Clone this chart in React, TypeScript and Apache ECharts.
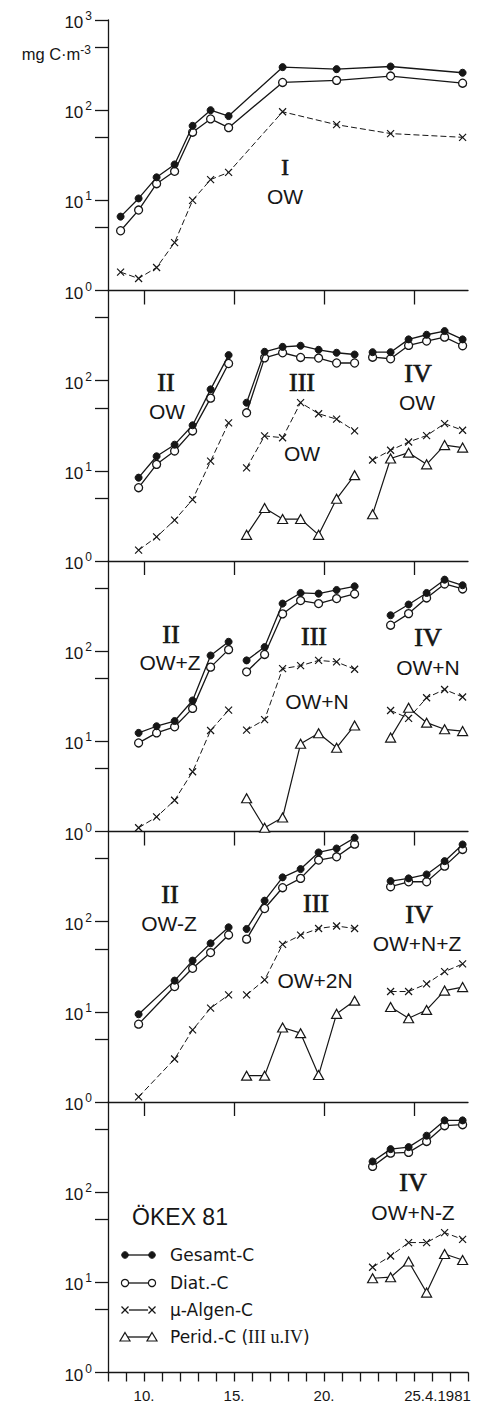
import React, { useEffect, useRef } from "react";
import * as echarts from "echarts";

// ---------- axes ----------
const X_MIN = 8;
const X_MAX = 28;
const X_LABEL_DAYS = [10, 15, 20, 25];
const Y_MIN = 1;
const Y_MAX = 1000;
const Y_MINOR_TICKS = [5, 50, 500];

// ---------- sampling days (April 1981) ----------
const DAYS_I = [8.7, 9.7, 10.7, 11.7, 12.7, 13.7, 14.7, 17.7, 20.7, 23.7, 27.7];
const DAYS_II = [9.7, 10.7, 11.7, 12.7, 13.7, 14.7];
const DAYS_II_B = [9.7, 11.7, 12.7, 13.7, 14.7];
const DAYS_III = [15.7, 16.7, 17.7, 18.7, 19.7, 20.7, 21.7];
const DAYS_IV = [22.7, 23.7, 24.7, 25.7, 26.7, 27.7];
const DAYS_IV_B = [23.7, 24.7, 25.7, 26.7, 27.7];

// ---------- panel 1: I OW ----------
const P1_GES = [6.6, 10.5, 18, 25, 67, 100, 86, 300, 285, 305, 260];
const P1_DIAT = [4.6, 7.8, 15.3, 21, 57, 80, 64, 203, 214, 239, 199];
const P1_MU = [1.6, 1.36, 1.8, 3.4, 10, 17, 20.4, 96, 69, 55, 50];

// ---------- panel 2: OW ----------
const P2_II_GES = [8.4, 14.5, 19.5, 32, 80, 192];
const P2_II_DIAT = [6.5, 11.8, 16.6, 27.7, 64, 155];
const P2_II_MU = [1.32, 1.85, 2.84, 4.8, 12.8, 34];
const P2_III_GES = [57, 209, 237, 244, 220, 204, 195];
const P2_III_DIAT = [44, 179, 204, 181, 178, 157, 157];
const P2_III_MU = [10.8, 24.4, 23.3, 57, 43, 37.4, 27.7];
const P2_III_PER = [1.95, 3.87, 2.92, 2.92, 1.95, 4.9, 8.95];
const P2_IV_GES = [207, 207, 287, 323, 355, 287];
const P2_IV_DIAT = [182, 175, 246, 275, 304, 244];
const P2_IV_MU = [13.2, 16.9, 20.9, 24.6, 33.4, 28.2];
const P2_IV_PER = [3.3, 13.7, 15.9, 11.8, 19.3, 18.1];

// ---------- panel 3: OW+Z / OW+N ----------
const P3_II_GES = [12.4, 14.7, 16.8, 28.4, 89.5, 127];
const P3_II_DIAT = [9.6, 12.4, 14.5, 23.2, 66.5, 104];
const P3_II_MU = [1.1, 1.45, 2.22, 4.6, 13.2, 22.2];
const P3_III_GES = [79, 111, 337, 442, 435, 477, 524];
const P3_III_DIAT = [59, 92, 259, 364, 337, 383, 431];
const P3_III_MU = [13.3, 17.4, 64, 69, 79, 76, 63];
const P3_III_PER = [2.34, 1.1, 1.43, 9.4, 12.3, 8.5, 15];
const P3_IV_GES = [250, 329, 442, 621, 538];
const P3_IV_DIAT = [194, 261, 389, 556, 490];
const P3_IV_MU = [22, 18, 30.4, 37.6, 31];
const P3_IV_PER = [11, 23.6, 16.1, 13.6, 13];

// ---------- panel 4: OW-Z / OW+2N / OW+N+Z ----------
const P4_II_GES = [9.4, 22.2, 37, 57.5, 86.6];
const P4_II_DIAT = [7.3, 19.1, 30.4, 45.4, 71.2];
const P4_II_MU = [1.14, 3.0, 6.3, 11, 15.4];
const P4_III_GES = [83, 171, 310, 383, 586, 648, 851];
const P4_III_DIAT = [64, 140, 238, 302, 482, 524, 724];
const P4_III_MU = [15.4, 22.6, 56, 71, 84, 89.5, 84];
const P4_III_PER = [1.96, 1.96, 6.7, 5.8, 1.99, 9.5, 13.3];
const P4_IV_GES = [282, 302, 334, 469, 718];
const P4_IV_DIAT = [244, 277, 277, 413, 632];
const P4_IV_MU = [16.8, 16.8, 20.4, 27.9, 34];
const P4_IV_PER = [11.3, 8.5, 10.5, 17.2, 18.8];

// ---------- panel 5: OW+N-Z ----------
const P5_IV_GES = [219, 300, 316, 423, 625, 625];
const P5_IV_DIAT = [193, 271, 276, 365, 546, 560];
const P5_IV_MU = [14.7, 19.6, 27.6, 27.6, 35.6, 30];
const P5_IV_PER = [11.1, 11.4, 17, 7.7, 20.6, 17.7];

const SERIES_NAMES = {
  G: "Gesamt-C",
  D: "Diat.-C",
  M: "µ-Algen-C",
  P: "Perid.-C (III u.IV)",
};

type Kind = "G" | "D" | "M" | "P";
type Line = [Kind, number[], number[]];

const PANELS: Line[][] = [
  [
    ["D", DAYS_I, P1_DIAT],
    ["G", DAYS_I, P1_GES],
    ["M", DAYS_I, P1_MU],
  ],
  [
    ["D", DAYS_II, P2_II_DIAT],
    ["G", DAYS_II, P2_II_GES],
    ["M", DAYS_II, P2_II_MU],
    ["D", DAYS_III, P2_III_DIAT],
    ["G", DAYS_III, P2_III_GES],
    ["M", DAYS_III, P2_III_MU],
    ["P", DAYS_III, P2_III_PER],
    ["D", DAYS_IV, P2_IV_DIAT],
    ["G", DAYS_IV, P2_IV_GES],
    ["M", DAYS_IV, P2_IV_MU],
    ["P", DAYS_IV, P2_IV_PER],
  ],
  [
    ["D", DAYS_II, P3_II_DIAT],
    ["G", DAYS_II, P3_II_GES],
    ["M", DAYS_II, P3_II_MU],
    ["D", DAYS_III, P3_III_DIAT],
    ["G", DAYS_III, P3_III_GES],
    ["M", DAYS_III, P3_III_MU],
    ["P", DAYS_III, P3_III_PER],
    ["D", DAYS_IV_B, P3_IV_DIAT],
    ["G", DAYS_IV_B, P3_IV_GES],
    ["M", DAYS_IV_B, P3_IV_MU],
    ["P", DAYS_IV_B, P3_IV_PER],
  ],
  [
    ["D", DAYS_II_B, P4_II_DIAT],
    ["G", DAYS_II_B, P4_II_GES],
    ["M", DAYS_II_B, P4_II_MU],
    ["D", DAYS_III, P4_III_DIAT],
    ["G", DAYS_III, P4_III_GES],
    ["M", DAYS_III, P4_III_MU],
    ["P", DAYS_III, P4_III_PER],
    ["D", DAYS_IV_B, P4_IV_DIAT],
    ["G", DAYS_IV_B, P4_IV_GES],
    ["M", DAYS_IV_B, P4_IV_MU],
    ["P", DAYS_IV_B, P4_IV_PER],
  ],
  [
    ["D", DAYS_IV, P5_IV_DIAT],
    ["G", DAYS_IV, P5_IV_GES],
    ["M", DAYS_IV, P5_IV_MU],
    ["P", DAYS_IV, P5_IV_PER],
  ],
];

const INK = "#161616";
const SANS = '"Liberation Sans", Arial, sans-serif';
const SANS2 = '"DejaVu Sans", "Liberation Sans", sans-serif';
const SERIF = '"Liberation Serif", "Times New Roman", serif';
const X_PATH = "path://M0,0L10,10M10,0L0,10";

const GRID_LEFT = 108;
const GRID_WIDTH = 360;
const GRID_TOP = 20;
const PANEL_H = 270.5;

const KIND_STYLE: Record<Kind, any> = {
  G: {
    symbol: "circle",
    symbolSize: 7,
    itemStyle: { color: INK, borderColor: INK, borderWidth: 1 },
    lineStyle: { color: INK, width: 1.3 },
    z: 5,
  },
  D: {
    symbol: "circle",
    symbolSize: 8,
    itemStyle: { color: "#fff", borderColor: INK, borderWidth: 1.3 },
    lineStyle: { color: INK, width: 1.3 },
    z: 4,
  },
  M: {
    symbol: X_PATH,
    symbolSize: 7,
    itemStyle: { color: "transparent", borderColor: INK, borderWidth: 1.2 },
    lineStyle: { color: INK, width: 1, type: [6, 3] },
    z: 3,
  },
  P: {
    symbol: "triangle",
    symbolSize: [10, 9],
    itemStyle: { color: "#fff", borderColor: INK, borderWidth: 1.2 },
    lineStyle: { color: INK, width: 1.2 },
    z: 3,
  },
};

function buildOption() {
  const grids: any[] = [];
  const xAxes: any[] = [];
  const yAxes: any[] = [];
  const series: any[] = [];
  const axisLine = { color: INK, width: 1.3 };

  PANELS.forEach((lines, i) => {
    const last = i === PANELS.length - 1;
    grids.push({
      left: GRID_LEFT,
      width: GRID_WIDTH,
      top: GRID_TOP + i * PANEL_H,
      height: PANEL_H,
    });
    xAxes.push({
      type: "value",
      gridIndex: i,
      min: X_MIN,
      max: X_MAX,
      interval: 1,
      axisLine: { show: true, onZero: false, lineStyle: axisLine },
      axisTick: last
        ? { show: true, length: 9, lineStyle: axisLine }
        : { show: true, length: 14, customValues: X_LABEL_DAYS, lineStyle: axisLine },
      axisLabel: last
        ? {
            show: true,
            customValues: X_LABEL_DAYS,
            margin: 15,
            color: INK,
            fontSize: 15,
            fontFamily: SANS,
            formatter: (v: number) => (v === 25 ? "{w|25.4.1981}" : `${v}.`),
            rich: {
              w: { fontSize: 15, fontFamily: SANS, color: INK, padding: [0, 0, 0, 47] },
            },
          }
        : { show: false },
      splitLine: { show: false },
    });
    yAxes.push({
      type: "log",
      logBase: 10,
      gridIndex: i,
      min: Y_MIN,
      max: Y_MAX,
      axisLine: { show: true, lineStyle: axisLine },
      axisTick: { show: true, length: 13, lineStyle: axisLine },
      axisLabel: {
        show: true,
        margin: 16,
        showMaxLabel: i === 0,
        showMinLabel: true,
        formatter: (v: number) => `{b|10}{s|${Math.round(Math.log10(v))}}`,
        rich: {
          b: { fontSize: 17, fontFamily: SANS, color: INK, lineHeight: 22, padding: [4, 0, 0, 0], verticalAlign: "bottom" },
          s: { fontSize: 12, fontFamily: SANS, color: INK, lineHeight: 14, padding: [1, 0, 0, 2], verticalAlign: "top" },
        },
      },
      splitLine: { show: false },
    });
    yAxes.push({
      type: "value",
      gridIndex: i,
      min: 0,
      max: 3,
      position: "left",
      axisLine: { show: false },
      axisTick: {
        show: true,
        length: 13,
        customValues: Y_MINOR_TICKS.map((v) => Math.log10(v)),
        lineStyle: axisLine,
      },
      axisLabel: { show: false },
      splitLine: { show: false },
    });
    lines.forEach(([kind, days, vals]) => {
      series.push({
        type: "line",
        name: SERIES_NAMES[kind],
        xAxisIndex: i,
        yAxisIndex: 2 * i,
        data: days.map((d, k) => [d, vals[k]]),
        showSymbol: true,
        silent: true,
        emphasis: { disabled: true },
        ...KIND_STYLE[kind],
      });
    });
  });

  const txt = (text: string, x: number, y: number, font: string, size: number, stroke = 0) => ({
    type: "text",
    x,
    y,
    silent: true,
    style: {
      text,
      fill: INK,
      font: `${size}px ${font}`,
      align: "center",
      verticalAlign: "middle",
      stroke: stroke ? INK : undefined,
      lineWidth: stroke,
    },
  });
  const roman = (t: string, x: number, y: number) => txt(t, x, y, SERIF, 26, 0.7);
  const sans = (t: string, x: number, y: number) => txt(t, x, y, SANS, 21);

  const LX1 = 125;
  const LX2 = 152;
  const LTX = 170;
  const legendRow = (y: number, kind: Kind, label: any) => {
    const items: any[] = [
      {
        type: "line",
        shape: { x1: LX1, y1: y, x2: LX2, y2: y },
        style: { stroke: INK, lineWidth: 1.3 },
      },
    ];
    [LX1, LX2].forEach((cx) => {
      if (kind === "G") {
        items.push({ type: "circle", shape: { cx, cy: y, r: 3.3 }, style: { fill: INK, stroke: INK, lineWidth: 1 } });
      } else if (kind === "D") {
        items.push({ type: "circle", shape: { cx, cy: y, r: 3.6 }, style: { fill: "#fff", stroke: INK, lineWidth: 1.2 } });
      } else if (kind === "M") {
        items.push({ type: "rect", shape: { x: cx - 4, y: y - 4, width: 8, height: 8 }, style: { fill: "#fff" } });
        items.push({ type: "line", shape: { x1: cx - 3.5, y1: y - 3.5, x2: cx + 3.5, y2: y + 3.5 }, style: { stroke: INK, lineWidth: 1.2 } });
        items.push({ type: "line", shape: { x1: cx + 3.5, y1: y - 3.5, x2: cx - 3.5, y2: y + 3.5 }, style: { stroke: INK, lineWidth: 1.2 } });
      } else {
        items.push({
          type: "polygon",
          shape: { points: [[cx, y - 4.5], [cx + 5, y + 4], [cx - 5, y + 4]] },
          style: { fill: "#fff", stroke: INK, lineWidth: 1.2 },
        });
      }
    });
    items.push({
      type: "text",
      x: LTX,
      y,
      silent: true,
      style: {
        text: label,
        fill: INK,
        font: `17px ${SANS2}`,
        align: "left",
        verticalAlign: "middle",
        rich: {
          r: { fontFamily: SERIF, fontSize: 18, fill: INK },
        },
      },
    });
    return items;
  };

  const graphic: any[] = [
    {
      type: "text",
      x: 91,
      y: 53,
      silent: true,
      style: {
        text: "{a|mg C·m}{s|-3}",
        align: "right",
        verticalAlign: "middle",
        fill: INK,
        rich: {
          a: { fontFamily: SANS, fontSize: 16.5, fill: INK, lineHeight: 19, padding: [6, 0, 0, 0], verticalAlign: "bottom" },
          s: { fontFamily: SANS, fontSize: 12, fill: INK, lineHeight: 13, verticalAlign: "top" },
        },
      },
    },
    // panel 1
    txt("I", 285, 167, SERIF, 23, 0.7),
    sans("OW", 285, 196),
    // panel 2
    roman("II", 166, 382),
    sans("OW", 167, 411),
    roman("III", 302, 382),
    sans("OW", 302, 453),
    roman("IV", 418, 373),
    sans("OW", 417, 402),
    // panel 3
    roman("II", 171, 634),
    sans("OW+Z", 170, 662),
    roman("III", 314, 636),
    sans("OW+N", 317, 701),
    roman("IV", 428, 637),
    sans("OW+N", 428, 667),
    // panel 4
    roman("II", 170, 894),
    sans("OW-Z", 169, 923),
    roman("III", 316, 903),
    sans("OW+2N", 315, 980),
    roman("IV", 419, 914),
    sans("OW+N+Z", 417, 943),
    // panel 5
    txt("ÖKEX 81", 180, 1217, SANS, 23),
    roman("IV", 413, 1182),
    sans("OW+N-Z", 413, 1212),
    ...legendRow(1255, "G", SERIES_NAMES.G),
    ...legendRow(1283, "D", SERIES_NAMES.D),
    ...legendRow(1310, "M", SERIES_NAMES.M),
    ...legendRow(1337, "P", "Perid.-C ({r|III u.IV})"),
  ];

  return {
    animation: false,
    backgroundColor: "#ffffff",
    grid: grids,
    xAxis: xAxes,
    yAxis: yAxes,
    series,
    graphic,
  };
}

export default function App() {
  const ref = useRef<HTMLDivElement>(null);
  useEffect(() => {
    if (!ref.current) return;
    const chart = echarts.init(ref.current, undefined, { renderer: "svg" });
    chart.setOption(buildOption() as any);
    return () => chart.dispose();
  }, []);
  return (
    <div
      ref={ref}
      style={{ position: "fixed", left: 0, top: 0, width: 482, height: 1411, background: "#fff" }}
    />
  );
}
